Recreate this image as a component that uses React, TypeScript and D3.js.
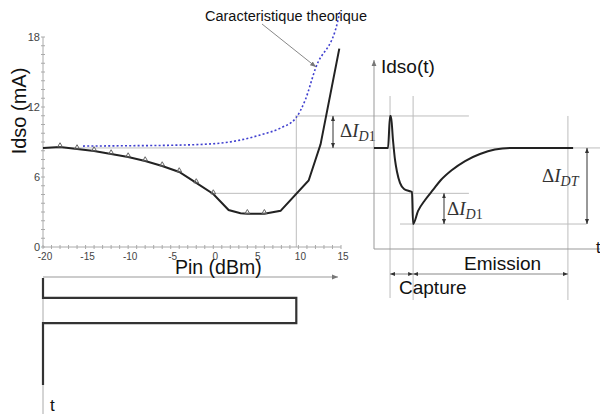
import * as d3 from "d3";

// measured Idso vs Pin (left chart)
const pinMeasured = [-20, -18, -16, -14, -12, -10, -8, -6, -4, -2, 0, 1.8, 3.2, 4, 6, 7.9, 11.2, 12.6, 14.8];
const idsoMeasured = [8.49, 8.57, 8.4, 8.23, 7.97, 7.71, 7.37, 6.94, 6.43, 5.49, 4.54, 3.17, 2.9, 2.85, 2.85, 3.1, 5.7, 8.8, 17.0];
const markerPins = [-18, -16, -14, -12, -10, -8, -6, -4, -2, 0, 4, 6];

// theoretical characteristic (blue dotted)
const pinTheory = [-15.3, -10, -5, 0, 3.2, 5.5, 7.9, 9.7, 10.8, 12.0, 14.6, 14.9];
const idsoTheory = [8.65, 8.68, 8.72, 8.85, 9.17, 9.6, 10.2, 11.06, 12.6, 15.3, 19.3, 20.3];

// transient Idso(t) (right diagram)
const timeWave = [0, 6.2, 7.1, 7.5, 8.4, 9.3, 10.2, 11.5, 13.3, 15.5, 16.8, 17.3, 19.5, 22.6, 26.1, 29.6, 34.5, 40.3, 46.9, 53.5, 60.2, 88.1];
const idsoWave = [8.49, 8.49, 11.23, 11.23, 9.17, 7.46, 6.43, 5.49, 4.97, 4.8, 4.71, 1.97, 3.09, 4.03, 4.89, 5.74, 6.6, 7.37, 7.97, 8.36, 8.49, 8.49];

// Pin pulse (bottom-left)
const pulseTime = [0, 8.8, 8.8, 19.9, 19.9, 47.2];
const pulsePin = [-20, -20, 9.75, 9.75, -20, -20];

const yTicks = [0, 6, 12, 18];
const xTicks = [-20, -15, -10, -5, 0, 5, 10, 15];

// reference levels (mA)
const levelPeak = 11.23;
const levelBase = 8.49;
const levelPlateau = 4.6;
const levelMin = 1.97;

const grid = "#bdbdbd";
const ink = "#222";

function Delta({ x, y, sub }: { x: number; y: number; sub: string }) {
  return (
    <text x={x} y={y} fontFamily="Liberation Serif, DejaVu Serif, serif" fontSize={19} fill="#333">
      Δ<tspan fontStyle="italic">I</tspan>
      <tspan fontSize={14} dy={4}>
        <tspan fontStyle="italic">{sub.replace(/[0-9]/g, "")}</tspan>
        {sub.replace(/[^0-9]/g, "")}
      </tspan>
    </text>
  );
}

export default function App() {
  const xL = d3.scaleLinear().domain([-20, 15]).range([43, 341]);
  const yL = d3.scaleLinear().domain([0, 18]).range([247, 37]);
  const xT = d3.scaleLinear().domain([0, 100]).range([374, 600]);
  const tB = d3.scaleLinear().domain([0, 60]).range([278, 414]);

  const measuredLine = d3
    .line<number>()
    .x((_, i) => xL(pinMeasured[i]))
    .y((d) => yL(d))(idsoMeasured);

  const theoryLine = d3
    .line<number>()
    .x((_, i) => xL(pinTheory[i]))
    .y((d) => yL(d))
    .curve(d3.curveMonotoneX)(idsoTheory);

  const waveLine = d3
    .line<number>()
    .x((_, i) => xT(timeWave[i]))
    .y((d) => yL(d))
    .curve(d3.curveMonotoneX)(idsoWave);

  const pulseLine = d3
    .line<number>()
    .x((_, i) => xL(pulsePin[i]))
    .y((d) => tB(d))(pulseTime);

  const yMinor = d3.range(0, 18.01, 0.75);
  const xMinor = d3.range(-20, 15.01, 1);
  const tri = d3.symbol().type(d3.symbolTriangle).size(10)();

  const xPk = xL(9.75);

  return (
    <svg
      width={600}
      height={414}
      style={{ position: "absolute", left: 0, top: 0, background: "#fff" }}
      fontFamily="Liberation Sans, Arial, sans-serif"
    >
      <defs>
        <marker id="ah" viewBox="0 0 6 6" refX={6} refY={3} markerWidth={5} markerHeight={5}
          orient="auto-start-reverse" markerUnits="userSpaceOnUse">
          <path d="M0,0.6 L6,3 L0,5.4 Z" fill="#333" />
        </marker>
        <marker id="ahg" viewBox="0 0 6 6" refX={6} refY={3} markerWidth={6} markerHeight={6}
          orient="auto-start-reverse" markerUnits="userSpaceOnUse">
          <path d="M0,0.6 L6,3 L0,5.4 Z" fill="#777" />
        </marker>
      </defs>

      {/* reference grid lines */}
      <g stroke={grid} strokeWidth={1} fill="none">
        <line x1={xL(-20)} x2={600} y1={yL(levelBase)} y2={yL(levelBase)} />
        <line x1={xL(9.6)} x2={xT(42)} y1={yL(levelPeak)} y2={yL(levelPeak)} />
        <line x1={xL(0)} x2={xT(42)} y1={yL(levelPlateau)} y2={yL(levelPlateau)} />
        <line x1={xT(11.5)} x2={xT(94)} y1={yL(levelMin)} y2={yL(levelMin)} />
        <line x1={xPk} x2={xPk} y1={yL(levelPeak)} y2={yL(0)} />
        <line x1={xT(7.1)} x2={xT(7.1)} y1={96} y2={298} />
        <line x1={xT(17.3)} x2={xT(17.3)} y1={96} y2={300} />
        <line x1={xT(85.8)} x2={xT(85.8)} y1={yL(levelPeak)} y2={300} />
      </g>

      {/* left axes */}
      <g stroke="#aaa" strokeWidth={1}>
        <line x1={xL(-20)} x2={xL(-20)} y1={yL(18)} y2={yL(0)} />
        <line x1={xL(-20)} x2={xL(15)} y1={yL(0)} y2={yL(0)} />
        {yMinor.map((v) => (
          <line key={"ym" + v} x1={xL(-20) - 2} x2={xL(-20) + 2} y1={yL(v)} y2={yL(v)} />
        ))}
        {xMinor.map((v) => (
          <line key={"xm" + v} x1={xL(v)} x2={xL(v)} y1={yL(0) - 2} y2={yL(0) + 2} />
        ))}
      </g>
      {yTicks.map((v) => (
        <text key={"yt" + v} x={xL(-20) - 3} y={yL(v)} dy="0.35em" textAnchor="end" fontSize={11} fill="#444">
          {v}
        </text>
      ))}
      {xTicks.map((v) => (
        <text key={"xt" + v} x={xL(v) + 2} y={yL(0) + 13} textAnchor="middle" fontSize={10} fill="#444">
          {v}
        </text>
      ))}
      <text transform={`translate(26,111) rotate(-90)`} textAnchor="middle" fontSize={20} fill="#111">
        Idso (mA)
      </text>
      <line x1={xL(-20)} x2={338} y1={277} y2={277} stroke="#999" strokeWidth={1} markerEnd="url(#ahg)" />
      <text x={175} y={274} fontSize={19.5} fill="#111">Pin (dBm)</text>

      {/* theoretical curve + annotation */}
      <path d={theoryLine ?? ""} fill="none" stroke="#3f3fcf" strokeWidth={1.6} strokeDasharray="2,2.2" />
      <text x={205} y={21} fontSize={14} fill="#111" textLength={162} lengthAdjust="spacingAndGlyphs">
        Caracteristique theorique
      </text>
      <line x1={262} y1={24} x2={316} y2={67} stroke="#888" strokeWidth={1} markerEnd="url(#ahg)" />

      {/* measured curve */}
      <path d={measuredLine ?? ""} fill="none" stroke={ink} strokeWidth={2} />
      {pinMeasured.map((p, i) =>
        markerPins.includes(p) ? (
          <path key={"mk" + p} d={tri ?? ""} transform={`translate(${xL(p)},${yL(idsoMeasured[i]) - 1.5})`}
            fill="none" stroke="#666" strokeWidth={1} />
        ) : null
      )}

      {/* ΔI_D1 left */}
      <line x1={333} x2={333} y1={yL(levelPeak)} y2={yL(levelBase)} stroke="#333" strokeWidth={1}
        markerStart="url(#ah)" markerEnd="url(#ah)" />
      <Delta x={340} y={137} sub="D1" />

      {/* right diagram axes */}
      <line x1={xT(0)} x2={xT(0)} y1={249} y2={60} stroke="#999" strokeWidth={1} markerEnd="url(#ahg)" />
      <line x1={xT(0)} x2={600} y1={249} y2={249} stroke="#999" strokeWidth={1} />
      <text x={381} y={73} fontSize={19} fill="#111">Idso(t)</text>
      <text x={596} y={253} fontSize={16} fill="#111">t</text>

      <path d={waveLine ?? ""} fill="none" stroke={ink} strokeWidth={2} />

      <line x1={444} x2={444} y1={yL(levelPlateau)} y2={yL(levelMin)} stroke="#333" strokeWidth={1}
        markerStart="url(#ah)" markerEnd="url(#ah)" />
      <Delta x={447} y={215} sub="D1" />
      <line x1={587} x2={587} y1={yL(levelBase)} y2={yL(levelMin)} stroke="#333" strokeWidth={1}
        markerStart="url(#ah)" markerEnd="url(#ah)" />
      <Delta x={542} y={182} sub="DT" />

      {/* capture / emission */}
      <line x1={xT(7.1)} x2={xT(17.3)} y1={274} y2={274} stroke="#888" strokeWidth={1}
        markerStart="url(#ah)" markerEnd="url(#ah)" />
      <line x1={xT(17.3)} x2={xT(85.8)} y1={274} y2={274} stroke="#888" strokeWidth={1}
        markerStart="url(#ah)" markerEnd="url(#ah)" />
      <text x={464} y={270} fontSize={19} fill="#111">Emission</text>
      <text x={399} y={294} fontSize={19} fill="#111">Capture</text>

      {/* Pin pulse */}
      <line x1={xL(-20)} x2={xL(-20)} y1={tB(0)} y2={414} stroke="#aaa" strokeWidth={1} />
      <path d={pulseLine ?? ""} fill="none" stroke="#333" strokeWidth={2.2} />
      <text x={50} y={411} fontSize={17} fill="#111">t</text>
    </svg>
  );
}
